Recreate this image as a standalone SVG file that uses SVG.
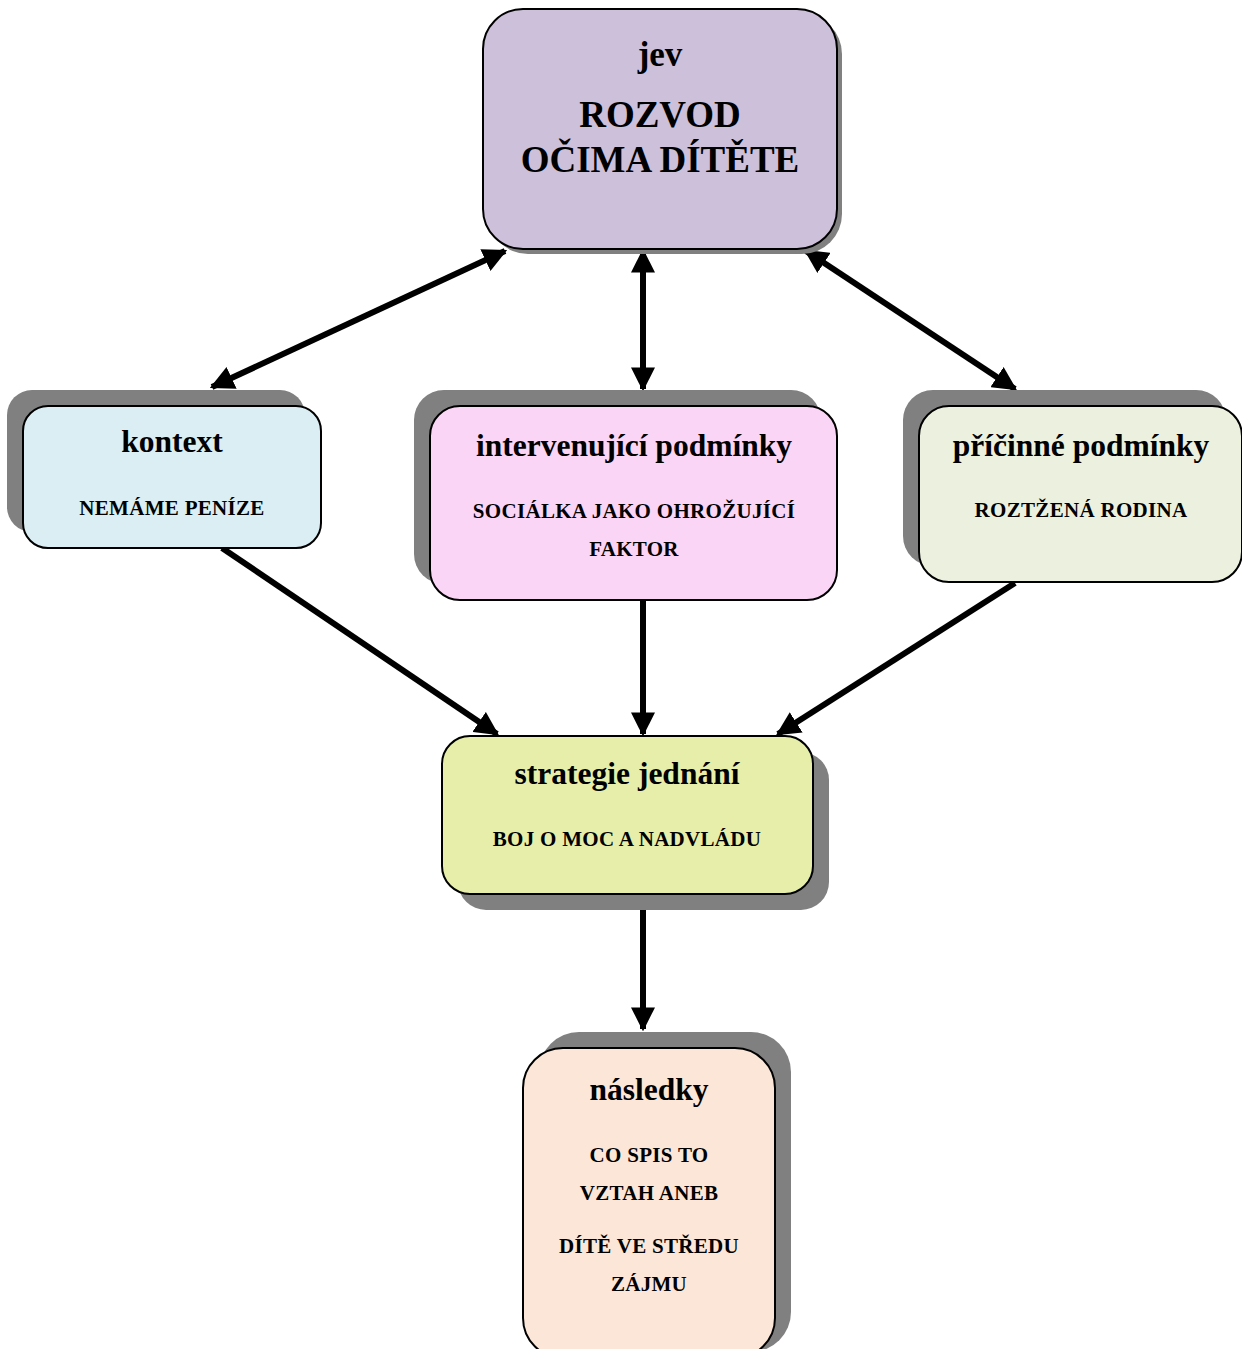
<svg xmlns="http://www.w3.org/2000/svg" width="1242" height="1349" viewBox="0 0 1242 1349">
<style>
.shadow{fill:#808080}
.box{stroke:#000;stroke-width:2}
.t{font-family:"Liberation Serif","Times New Roman",serif;font-weight:bold;fill:#000;text-anchor:middle}
.h{font-size:31.5px}
.s{font-size:21px;letter-spacing:0.3px}
.big{font-size:37px}
.conn{stroke:#000;stroke-width:6;fill:none}
</style>
<defs>
<marker id="ah" viewBox="0 0 10 10" refX="9" refY="5" markerWidth="24" markerHeight="24" markerUnits="userSpaceOnUse" orient="auto-start-reverse">
<path d="M0,0 L10,5 L0,10 z" fill="#000"/>
</marker>
</defs>
<rect width="1242" height="1349" fill="#fff"/>
<g id="connectors">
<line class="conn" x1="212" y1="387" x2="505" y2="251" marker-start="url(#ah)" marker-end="url(#ah)"/>
<line class="conn" x1="643" y1="389" x2="643" y2="251" marker-start="url(#ah)" marker-end="url(#ah)"/>
<line class="conn" x1="1015" y1="389" x2="806" y2="251" marker-start="url(#ah)" marker-end="url(#ah)"/>
<line class="conn" x1="222" y1="548" x2="497" y2="734" marker-end="url(#ah)"/>
<line class="conn" x1="643" y1="600" x2="643" y2="734" marker-end="url(#ah)"/>
<line class="conn" x1="1015" y1="583" x2="778" y2="734" marker-end="url(#ah)"/>
<line class="conn" x1="643" y1="895" x2="643" y2="1029" marker-end="url(#ah)"/>
</g>
<g id="jev">
<rect class="shadow" x="488" y="14" width="354" height="240" rx="40"/>
<rect class="box" x="483" y="9" width="354" height="240" rx="40" fill="#ccc0da"/>
<text class="t" x="660" y="66" font-size="35">jev</text>
<text class="t big" x="660" y="127">ROZVOD</text>
<text class="t big" x="660" y="172">OČIMA DÍTĚTE</text>
</g>
<g id="kontext">
<rect class="shadow" x="7" y="390" width="298" height="142" rx="25"/>
<rect class="box" x="23" y="406" width="298" height="142" rx="25" fill="#daeef3"/>
<text class="t h" x="172" y="452">kontext</text>
<text class="t s" x="172" y="515">NEMÁME PENÍZE</text>
</g>
<g id="intervenujici">
<rect class="shadow" x="414" y="390" width="407" height="194" rx="30"/>
<rect class="box" x="430" y="406" width="407" height="194" rx="30" fill="#fbd5f5"/>
<text class="t h" x="634" y="456">intervenující podmínky</text>
<text class="t s" x="634" y="518">SOCIÁLKA JAKO OHROŽUJÍCÍ</text>
<text class="t s" x="634" y="556">FAKTOR</text>
</g>
<g id="pricinne">
<rect class="shadow" x="903" y="390" width="323" height="176" rx="30"/>
<rect class="box" x="919" y="406" width="323" height="176" rx="30" fill="#ebf1de"/>
<text class="t h" x="1081" y="456">příčinné podmínky</text>
<text class="t s" x="1081" y="517">ROZTŽENÁ RODINA</text>
</g>
<g id="strategie">
<rect class="shadow" x="458" y="752" width="371" height="158" rx="28"/>
<rect class="box" x="442" y="736" width="371" height="158" rx="28" fill="#e6eeaa"/>
<text class="t h" x="627" y="784">strategie jednání</text>
<text class="t s" x="627" y="846">BOJ O MOC A NADVLÁDU</text>
</g>
<g id="nasledky">
<rect class="shadow" x="539" y="1032" width="252" height="320" rx="40"/>
<rect class="box" x="523" y="1048" width="252" height="310" rx="40" fill="#fbe6d8"/>
<text class="t h" x="649" y="1100">následky</text>
<text class="t s" x="649" y="1162">CO SPIS TO</text>
<text class="t s" x="649" y="1200">VZTAH ANEB</text>
<text class="t s" x="649" y="1253">DÍTĚ VE STŘEDU</text>
<text class="t s" x="649" y="1291">ZÁJMU</text>
</g>
</svg>
